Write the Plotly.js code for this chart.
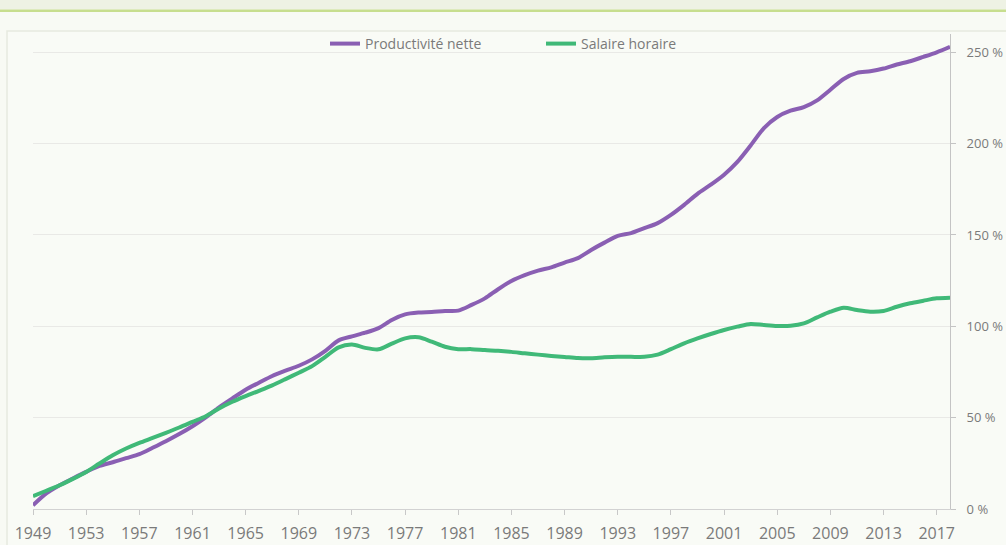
<!DOCTYPE html>
<html>
<head>
<meta charset="utf-8">
<script src="https://cdn.plot.ly/plotly-3.0.1.min.js"></script>
<style>
html,body{margin:0;padding:0;background:#f8faf4;}
#chart{width:1006px;height:545px;}
</style>
</head>
<body>
<div id="chart"></div>
<script>
var years = [];
for (var yr = 1949; yr <= 2018; yr++) years.push(yr);

var productivite = [
  2, 8.5, 13, 16.7, 20.3, 23.6, 25.6, 27.8, 30, 33.5,
  37.1, 41, 45.3, 50.2, 55.6, 60.5, 65.3, 69.1, 72.8, 75.7,
  78.4, 81.9, 86.6, 92.3, 94.5, 96.5, 99, 103.5, 106.5, 107.5,
  107.8, 108.4, 108.6, 111.7, 115.3, 120.3, 124.8, 128, 130.5, 132.3,
  134.9, 137.3, 141.8, 145.8, 149.5, 151, 153.7, 156.5, 161, 166.5,
  172.5, 177.5, 183, 190, 199, 208.5, 214.6, 218, 220, 223.7,
  229.5, 235.4, 238.7, 239.6, 241.1, 243.3, 245.1, 247.5, 250, 253
];

var salaire = [
  7, 10, 13, 16.5, 20.3, 24.9, 29.4, 33.1, 36.2, 38.9,
  41.7, 44.6, 47.7, 50.8, 55, 58.7, 61.8, 64.7, 67.7, 71.1,
  74.6, 78.2, 83.3, 88.5, 90, 88.2, 87.4, 90.5, 93.4, 94,
  91.6, 88.8, 87.5, 87.5, 87, 86.6, 86, 85.2, 84.5, 83.8,
  83.2, 82.6, 82.5, 83, 83.3, 83.3, 83.3, 84.5, 87.5, 90.7,
  93.4, 95.8, 98, 99.8, 101.3, 100.7, 100.2, 100.3, 101.6, 104.9,
  108, 110.2, 108.9, 108, 108.4, 110.7, 112.6, 114, 115.3, 115.7
];

var xTickVals = [1949, 1953, 1957, 1961, 1965, 1969, 1973, 1977, 1981, 1985, 1989, 1993, 1997, 2001, 2005, 2009, 2013, 2017];
var xTickText = ['1949', '1953', '1957', '1961', '1965', '1969', '1973', '1977', '1981', '1985', '1989', '1993', '1997', '2001', '2005', '2009', '2013', '2017'];
var yTickVals = [0, 50, 100, 150, 200, 250];
var yTickText = ['0 %', '50 %', '100 %', '150 %', '200 %', '250 %'];

var seriesNames = ['Productivité nette', 'Salaire horaire'];

var traces = [
  {
    x: years, y: productivite, name: seriesNames[0], type: 'scatter', mode: 'lines',
    line: {color: '#8a5fb3', width: 4, shape: 'spline', smoothing: 0.8}
  },
  {
    x: years, y: salaire, name: seriesNames[1], type: 'scatter', mode: 'lines',
    line: {color: '#40b978', width: 4, shape: 'spline', smoothing: 0.8}
  }
];

var L = 33, R = 56, T = 34, B = 36, W = 1006, H = 545;
var pw = W - L - R, ph = H - T - B;
function px(x){ return (x - L) / pw; }
function py(y){ return (H - B - y) / ph; }

var layout = {
  width: W, height: H,
  margin: {l: L, r: R, t: T, b: B, pad: 0},
  paper_bgcolor: '#f8faf4',
  plot_bgcolor: 'rgba(0,0,0,0)',
  font: {family: 'Open Sans, sans-serif', color: '#7a7a7a', size: 14},
  showlegend: true,
  legend: {
    orientation: 'h', x: px(325), xanchor: 'left', y: py(44), yanchor: 'middle',
    bgcolor: 'rgba(0,0,0,0)', font: {size: 14, color: '#7a7a7a'},
    entrywidth: 171, entrywidthmode: 'pixels', traceorder: 'normal'
  },
  xaxis: {
    type: 'linear', range: [1949, 2018], tickmode: 'array',
    tickvals: xTickVals, ticktext: xTickText,
    showgrid: false, zeroline: false,
    showline: true, linecolor: '#d2d2d2', linewidth: 1,
    ticks: 'outside', ticklen: 5, tickcolor: '#c8c8c8', tickwidth: 1,
    tickfont: {size: 16, color: '#7a7a7a'}, ticklabelstandoff: 5, fixedrange: true
  },
  yaxis: {
    side: 'right', range: [0, 260], tickmode: 'array',
    tickvals: yTickVals, ticktext: yTickText,
    showgrid: true, gridcolor: '#e9e9e6', gridwidth: 1, zeroline: false,
    showline: true, linecolor: '#c4c4c4', linewidth: 1,
    ticks: 'outside', ticklen: 5, tickcolor: '#c4c4c4',
    tickfont: {size: 13, color: '#7a7a7a'}, ticklabelstandoff: 8, fixedrange: true
  },
  shapes: [
    {type: 'rect', xref: 'paper', yref: 'paper', layer: 'below',
     x0: px(0), x1: px(W), y0: py(9.5), y1: py(0),
     fillcolor: '#eef2e4', line: {width: 0}},
    {type: 'rect', xref: 'paper', yref: 'paper', layer: 'below',
     x0: px(0), x1: px(W), y0: py(12), y1: py(9.5),
     fillcolor: '#c7de8e', line: {width: 0}},
    {type: 'rect', xref: 'paper', yref: 'paper', layer: 'below',
     x0: px(7), x1: px(W + 20), y0: py(H + 20), y1: py(31),
     fillcolor: '#f9fbf6', line: {color: '#e6eadf', width: 1.5}}
  ]
};

Plotly.newPlot('chart', traces, layout, {displayModeBar: false, staticPlot: true});
</script>
</body>
</html>
